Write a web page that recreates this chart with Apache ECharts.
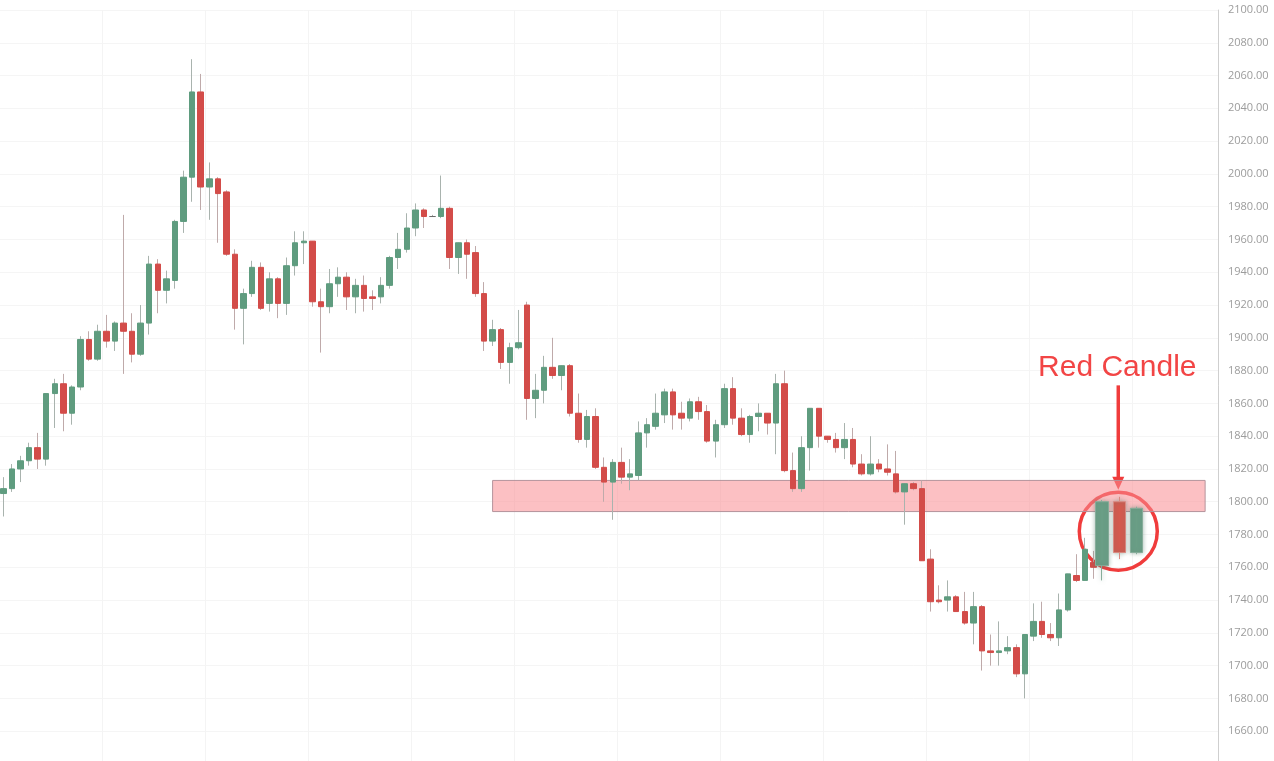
<!DOCTYPE html>
<html>
<head>
<meta charset="utf-8">
<script src="https://cdn.jsdelivr.net/npm/echarts@6/dist/echarts.min.js"></script>
<style>
  html, body { margin: 0; padding: 0; background: #fff; }
  #chart { width: 1274px; height: 761px; }
</style>
</head>
<body>
<div id="chart"></div>
<script>
  // candles, one entry per bar
  var opens  = [1805,1808,1820,1825,1833,1826,1866,1872,1854,1870,1899,1887,1904,1898,1909,1904,1890,1909,1945,1929,
                1935,1971,1998,2050,1992,1997,1989,1951,1918,1927,1943,1921,1936,1921,1944,1958,1959,1922,1919,1933,
                1937,1925,1932,1925,1925,1932,1949,1954,1967,1978,1974,1974,1979,1949,1958,1952,1927,1898,1905,1885,
                1894,1920,1863,1868,1882,1877,1883,1854,1838,1852,1821,1812,1824,1815,1816,1842,1846,1853,1867,1854,
                1851,1861,1855,1837,1847,1869,1851,1841,1852,1854,1848,1872,1819,1808,1833,1857,1840,1838,1833,1838,
                1823,1817,1823,1820,1817,1806,1811,1808,1765,1740,1740,1742,1733,1726,1736,1709,1708,1709,1711,1695,
                1718,1727,1719,1717,1734,1755,1752,1763];
  var closes = [1808,1820,1825,1833,1826,1866,1872,1854,1870,1899,1887,1904,1898,1909,1904,1890,1909,1945,1929,1936,
                1971,1998,2050,1992,1997,1988,1951,1918,1927,1943,1918,1936,1921,1944,1958,1959,1922,1919,1933,1937,
                1925,1932,1924,1924,1932,1949,1954,1967,1978,1974,1974,1979,1949,1958,1951,1927,1898,1905,1885,1894,
                1897,1863,1868,1882,1877,1883,1854,1838,1852,1821,1812,1824,1815,1817,1842,1847,1854,1867,1853,1851,
                1861,1855,1837,1847,1869,1851,1841,1852,1854,1848,1872,1819,1808,1833,1857,1840,1838,1833,1838,1823,
                1817,1823,1820,1818,1806,1811,1808,1764,1739,1739,1742,1733,1726,1736,1709,1708,1709,1711,1695,1719,
                1727,1719,1717,1734,1756,1752,1771,1760];
  var lows   = [1791,1806,1812,1822,1820,1822,1845,1843,1847,1868,1886,1886,1894,1892,1878,1885,1889,1902,1915,1921,
                1930,1964,1983,1978,1972,1958,1950,1905,1896,1925,1917,1916,1912,1914,1938,1945,1919,1891,1915,1925,
                1917,1915,1916,1917,1921,1930,1942,1952,1962,1967,1974,1973,1942,1939,1936,1925,1892,1895,1881,1872,
                1893,1850,1851,1860,1875,1868,1852,1836,1833,1820,1800,1789,1811,1807,1813,1833,1844,1848,1844,1844,
                1849,1850,1836,1827,1845,1847,1840,1836,1843,1841,1829,1818,1806,1806,1819,1833,1836,1830,1826,1821,
                1816,1816,1818,1816,1805,1786,1807,1764,1733,1738,1733,1733,1725,1713,1697,1700,1700,1707,1693,1680,
                1715,1717,1715,1712,1733,1751,1752,1753];
  var highs  = [1815,1823,1828,1836,1842,1866,1875,1878,1871,1901,1904,1908,1914,1910,1975,1915,1920,1950,1948,1941,
                1972,2002,2070,2061,2007,1998,1990,1954,1930,1947,1946,1940,1937,1949,1965,1965,1959,1930,1942,1943,
                1940,1936,1938,1929,1937,1950,1964,1976,1982,1979,1975,1999,1980,1958,1960,1956,1934,1911,1906,1897,
                1917,1922,1878,1889,1900,1883,1884,1866,1856,1857,1827,1826,1833,1826,1849,1851,1866,1869,1869,1861,
                1863,1864,1859,1850,1872,1876,1857,1853,1860,1854,1878,1880,1830,1840,1857,1857,1840,1842,1848,1845,
                1829,1840,1826,1835,1831,1811,1812,1813,1771,1749,1752,1743,1745,1745,1737,1719,1727,1718,1713,1719,
                1738,1739,1726,1744,1756,1768,1778,1770];

  // the three magnified candles inside the circle
  var hiIndex  = [128, 130, 132];
  var hiOpens  = [1761, 1800, 1769];
  var hiCloses = [1800, 1769, 1796];
  var hiLows   = [1752, 1765, 1768];
  var hiHighs  = [1801, 1803, 1797];

  // support zone
  var zoneTop = 1813, zoneBottom = 1794, zoneFrom = 57, zoneTo = 140;
  var totalSlots = 142;

  var cats = [];
  for (var i = 0; i < totalSlots; i++) cats.push(String(i));

  var wickData = [], bodyData = [], hiData = [];
  for (var i = 0; i < totalSlots; i++) {
    if (i < opens.length) {
      wickData.push([opens[i], closes[i], lows[i], highs[i]]);
      bodyData.push([opens[i], closes[i], Math.min(opens[i], closes[i]), Math.max(opens[i], closes[i])]);
    } else {
      wickData.push('-');
      bodyData.push('-');
    }
    hiData.push('-');
  }
  hiIndex.forEach(function (k, j) {
    hiData[k] = [hiOpens[j], hiCloses[j], hiLows[j], hiHighs[j]];
  });

  var green = '#5f9c7f', red = '#d34c49';

  var chart = echarts.init(document.getElementById('chart'));
  chart.setOption({
    animation: false,
    grid: { left: -1, right: 56, top: 10, bottom: -3, outerBoundsMode: 'none', containLabel: false },
    xAxis: {
      type: 'category',
      data: cats,
      boundaryGap: true,
      axisLine: { show: false },
      axisTick: { show: false },
      axisLabel: { show: false },
      splitLine: { show: true, interval: 11, lineStyle: { color: '#f4f4f4' } }
    },
    yAxis: {
      type: 'value',
      position: 'right',
      min: 1640,
      max: 2100,
      interval: 20,
      axisLine: { show: true, lineStyle: { color: '#cfcfcf' } },
      axisTick: { show: false },
      axisLabel: {
        color: '#9c9c9c',
        fontSize: 11,
        margin: 10,
        fontFamily: 'Open Sans',
        formatter: function (v) { return v === 1640 ? '' : v.toFixed(2); }
      },
      splitLine: { show: true, lineStyle: { color: '#f5f5f5' } }
    },
    series: [{
      type: 'candlestick',
      name: 'wick',
      data: wickData,
      barWidth: 1,
      itemStyle: {
        color: '#a9b3ae', color0: '#bfaaaa',
        borderColor: '#a9b3ae', borderColor0: '#bfaaaa', borderColorDoji: '#a8a8a8',
        borderWidth: 1
      },
      markArea: {
        silent: true,
        itemStyle: { color: 'rgba(250,140,146,0.55)', borderColor: '#b4939b', borderWidth: 1 },
        data: [[{ xAxis: cats[zoneFrom], yAxis: zoneTop }, { xAxis: cats[zoneTo], yAxis: zoneBottom }]]
      }
    }, {
      type: 'candlestick',
      name: 'body',
      data: bodyData,
      barWidth: 6,
      itemStyle: {
        color: green, color0: red,
        borderColor: green, borderColor0: red, borderColorDoji: '#6b6b6b',
        borderWidth: 1
      }
    }, {
      type: 'candlestick',
      name: 'highlight',
      data: hiData,
      barWidth: 13,
      itemStyle: {
        color: '#6a9e86', color0: '#d45a4f',
        borderColor: '#86ad9a', borderColor0: '#d98a82',
        borderWidth: 1,
        shadowBlur: 4, shadowColor: 'rgba(90,130,110,0.5)'
      }
    }]
  });

  // annotation placed from data coordinates of the red highlight candle
  var ringPt = chart.convertToPixel({ seriesIndex: 2 }, [cats[130], 1782]);
  var arrowTop = chart.convertToPixel({ seriesIndex: 2 }, [cats[130], 1871]);
  var arrowTip = chart.convertToPixel({ seriesIndex: 2 }, [cats[130], 1808]);
  var labelPt = chart.convertToPixel({ seriesIndex: 2 }, [cats[130], 1882]);
  var cx = ringPt[0] - 1;
  chart.setOption({
    graphic: [{
      type: 'circle',
      shape: { cx: cx, cy: ringPt[1], r: 39 },
      style: { fill: 'none', stroke: '#f03c3c', lineWidth: 3.5 }
    }, {
      type: 'line',
      shape: { x1: cx, y1: arrowTop[1], x2: cx, y2: arrowTip[1] - 10 },
      style: { stroke: '#f03c3c', lineWidth: 3.5 }
    }, {
      type: 'polygon',
      shape: { points: [[cx - 6, arrowTip[1] - 12], [cx + 6, arrowTip[1] - 12], [cx, arrowTip[1] + 1]] },
      style: { fill: '#f03c3c' }
    }, {
      type: 'text',
      x: cx - 1,
      y: labelPt[1],
      style: {
        text: 'Red Candle',
        fill: '#f24545',
        font: '30px "Liberation Sans", Arial, sans-serif',
        align: 'center',
        verticalAlign: 'middle'
      }
    }]
  });
</script>
</body>
</html>
